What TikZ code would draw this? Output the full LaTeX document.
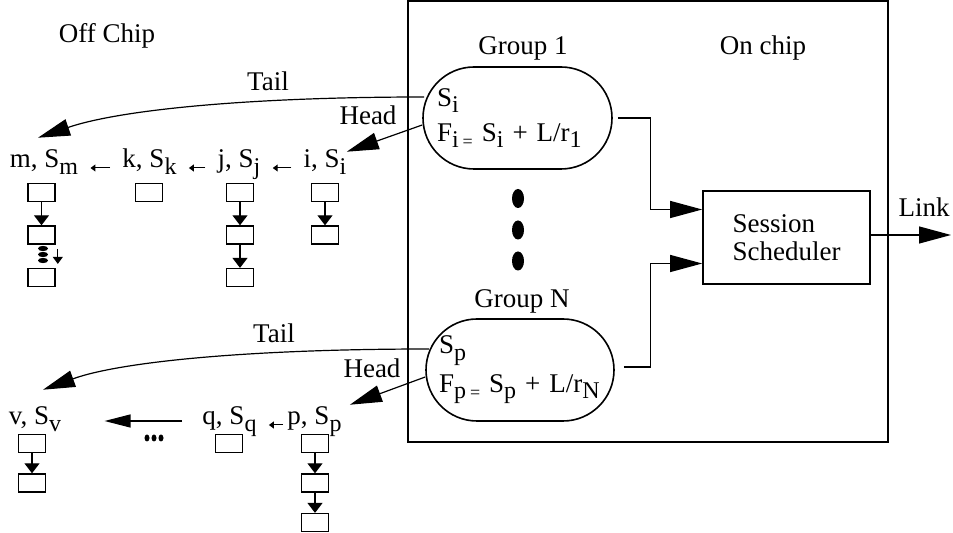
\documentclass[tikz,border=0pt]{standalone}
\usepackage{fontspec}
\setmainfont{Liberation Serif}
\usetikzlibrary{arrows.meta, positioning, calc}

\newcommand{\lo}[1]{\raisebox{-3.3pt}{\fontsize{12}{12}\selectfont #1}}
\newcommand{\eqs}{{\fontsize{9}{9}\selectfont =}}

\begin{document}
\begin{tikzpicture}[
    x=0.5pt, y=-0.5pt,
    font=\fontsize{13.5}{14}\selectfont,
    txt/.style={inner sep=0pt, anchor=base},
    cell/.style={
        draw, line width=0.8pt, minimum width=13.5pt,
        minimum height=9pt, inner sep=0pt
    },
    group/.style={
        draw, line width=0.8pt, rounded corners=25.5pt,
        minimum height=51pt, align=left, inner ysep=0pt
    },
    arr/.style={-{Triangle[length=16pt,width=8.5pt]}, line width=0.6pt},
    down/.style={-{Triangle[length=5pt,width=7.5pt]}, line width=0.6pt},
    tiny/.style={-{Triangle[length=3.5pt,width=5pt]}, line width=0.5pt},
    next/.style={
        -{Triangle[length=2.5pt,width=3.5pt]}, line width=0.5pt,
        shorten >=6pt, shorten <=6pt
    },
]
\useasboundingbox (0,0) rectangle (953,533);

%% Chip
\node[draw, line width=0.8pt, minimum width=240pt, minimum height=220.5pt]
    (chip) at (648,221.5) {};
\node[txt] (offchip) at (107,43) {Off Chip};
\node[txt] (onchip) at (763,55) {On chip};

%% Groups
\node[txt] (g1lbl) at (523,55) {Group 1};
\node[group, text width=80.5pt, inner xsep=7pt] (grp1) at (517.5,118)
    {S\lo{i}\\[3.5pt]F\lo{i\,\eqs} S\lo{i} + L/r\lo{1}};
\foreach \y in {198.5,230,261}
    \fill (518,\y) ellipse [x radius=3pt, y radius=4.75pt];
\node[txt] (gNlbl) at (522,308) {Group N};
\node[group, text width=81pt, inner xsep=6.5pt] (grpN) at (520,370)
    {S\lo{p}\\[3.5pt]F\lo{p\,\eqs} S\lo{p} + L/r\lo{N}};

%% Scheduler
\node[draw, line width=0.8pt, minimum width=83.5pt, minimum height=46.5pt,
      align=left] (sched) at (786.5,237.5) {Session\\Scheduler};
\draw[arr] ([xshift=2.5pt]grp1.east) -- ++(33,0) |- ([yshift=14pt]sched.west);
\draw[arr] ([xshift=4.5pt,yshift=1.5pt]grpN.east) -- ++(27,0)
    |- ([yshift=-13pt]sched.west);
\coordinate (linkend) at (951,235);
\draw[arr] (sched.east |- linkend) -- (linkend);
\node[txt] (linklbl) at (924,217) {Link};

%% Upper list
\node[txt] (lm) at (44,168) {m, S\lo{m}};
\node[txt] (lk) at (149.5,168) {k, S\lo{k}};
\node[txt] (lj) at (239,168) {j, S\lo{j}};
\node[txt] (li) at (325,168) {i, S\lo{i}};
\draw[next] (lk.base west) -- (lm.base east);
\draw[next] (lj.base west) -- (lk.base east);
\draw[next] (li.base west) -- (lj.base east);

\node[cell] (bm1) at (41.5,192.5) {};
\node[cell, below=11.5pt of bm1] (bm2) {};
\node[cell, below=11.5pt of bm2] (bm3) {};
\draw[down] (bm1) -- (bm2);
\foreach \y in {248.5,254.5,260.5}
    \fill (43,\y) ellipse [x radius=2.5pt, y radius=1.3pt];
\draw[tiny] ([xshift=1pt,yshift=-2pt]bm2.south east)
    -- ([xshift=1pt,yshift=2pt]bm3.north east);

\node[cell] (bk1) at (149,192.5) {};

\node[cell] (bj1) at (240,192.5) {};
\node[cell, below=11.5pt of bj1] (bj2) {};
\node[cell, below=11.5pt of bj2] (bj3) {};
\draw[down] (bj1) -- (bj2);
\draw[down] (bj2) -- (bj3);

\node[cell] (bi1) at (325,192.5) {};
\node[cell, below=11.5pt of bi1] (bi2) {};
\draw[down] (bi1) -- (bi2);

\node[txt] (tail1) at (268,91) {Tail};
\node[txt] (head1) at (368,125) {Head};
\draw[arr] ($(grp1.west)+(2,-21)$) .. controls +(-175,0) and +(82,-28) ..
    ([xshift=-3pt,yshift=6pt]lm.north);
\draw[arr] ($(grp1.west)+(0,7)$) -- ([yshift=-1pt]li.north east);

%% Lower list
\node[txt] (lv) at (35,425) {v, S\lo{v}};
\node[txt] (lq) at (229.5,425) {q, S\lo{q}};
\node[txt] (lp) at (314.5,425) {p, S\lo{p}};
\draw[next, shorten <=2pt] (lp.base west) -- (lq.base east);
\draw[-{Triangle[length=13pt,width=6.5pt]}, line width=0.6pt,
      shorten <=10pt, shorten >=21.5pt]
    ([yshift=2pt]lq.base west) -- ([yshift=2pt]lv.base east);
\foreach \x in {147,154,161}
    \fill (\x,438) ellipse [x radius=1.25pt, y radius=1.75pt];

\node[cell] (bv1) at (32,443.5) {};
\node[cell, below=10pt of bv1] (bv2) {};
\draw[down] (bv1) -- (bv2);

\node[cell] (bq1) at (229,443.5) {};

\node[cell] (bp1) at (315,443.5) {};
\node[cell, below=10pt of bp1] (bp2) {};
\node[cell, below=10pt of bp2] (bp3) {};
\draw[down] (bp1) -- (bp2);
\draw[down] (bp2) -- (bp3);

\node[txt] (tail2) at (274,343) {Tail};
\node[txt] (head2) at (372,378) {Head};
\draw[arr] ($(grpN.west)+(4,-21)$) .. controls +(-180,0) and +(77,-28) ..
    ([xshift=4pt,yshift=8.5pt]lv.north);
\draw[arr] ($(grpN.west)+(0,7)$) -- ([xshift=4pt,yshift=1pt]lp.north east);

\end{tikzpicture}
\end{document}
